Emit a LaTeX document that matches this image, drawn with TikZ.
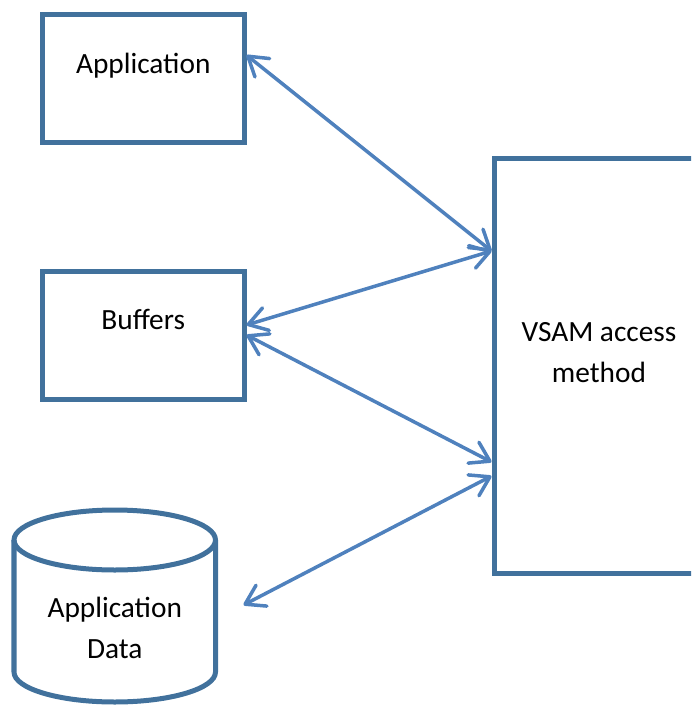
\documentclass[tikz,border=0pt]{standalone}
\usepackage{fontspec}
\setmainfont{Carlito}
\usepackage{tikz}
\usetikzlibrary{arrows.meta}
\tikzset{font={\fontsize{16.7pt}{23.3pt}\selectfont}}
\definecolor{boxblue}{RGB}{65,113,156}
\definecolor{linkblue}{RGB}{79,129,189}

\begin{document}
\begin{tikzpicture}[
unit/.style={draw=boxblue,line width=0.1cm,minimum width=4.03cm,minimum height=2.57cm},
cask/.style={draw=boxblue,line width=0.1cm},
link/.style={linkblue,line width=0.07cm,{Straight Barb[length=0.37cm,width=0.47cm,round]}-{Straight Barb[length=0.37cm,width=0.47cm,round]}}
]
\useasboundingbox (0,0) rectangle (13.82,-14.14);
\clip (0,0) rectangle (13.82,-14.14);

\node[unit,label={[yshift=0.25cm]center:Application}] (app) at (2.865,-1.572) {};
\node[unit,minimum height=2.56cm,label={[yshift=0.31cm]center:Buffers}] (buf) at (2.865,-6.70) {};
\node[minimum width=4.03cm,minimum height=3.84cm,outer sep=0pt,label={[align=center,yshift=-0.43cm]center:Application\\Data}] (data) at (2.295,-12.12) {};
\node[unit,minimum width=4.2cm,minimum height=8.3cm,label={[align=center,yshift=0.25cm]center:VSAM access\\method}] (vsam) at (11.98,-7.31) {};

\draw[cask] ([yshift=-0.6cm]data.north) ellipse [x radius=2.015cm,y radius=0.6cm];
\draw[cask] ([yshift=-0.6cm]data.north west) -- ([yshift=0.6cm]data.south west)
  arc [start angle=180,end angle=360,x radius=2.015cm,y radius=0.6cm] -- ([yshift=-0.6cm]data.north east);

\coordinate (dataend) at ([xshift=0.56cm,yshift=0.02cm]data.east);

\draw[link] ([yshift=0.47cm]app.east) -- ([yshift=2.29cm]vsam.west);
\draw[link] ([yshift=0.2cm]buf.east) -- ([yshift=2.29cm]vsam.west);
\draw[link] (buf.east) -- ([yshift=-1.93cm]vsam.west);
\draw[link] (dataend) -- ([yshift=-2.21cm]vsam.west);

\end{tikzpicture}
\end{document}
